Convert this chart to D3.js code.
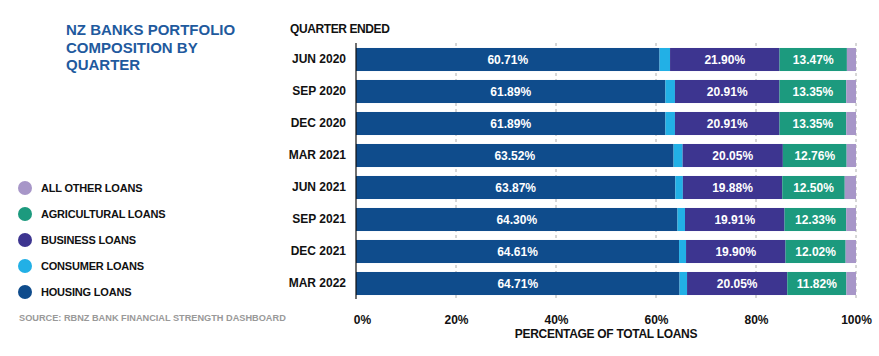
<!DOCTYPE html>
<html><head><meta charset="utf-8">
<script src="https://cdn.jsdelivr.net/npm/d3@7"></script>
<style>
html,body{margin:0;padding:0;background:#fff;}
text{font-family:"Liberation Sans",Arial,sans-serif;font-weight:bold;}
</style></head>
<body>
<svg id="chart" width="879" height="356"></svg>
<script>
const quarters = ["JUN 2020","SEP 2020","DEC 2020","MAR 2021","JUN 2021","SEP 2021","DEC 2021","MAR 2022"];
const housing = [60.71, 61.89, 61.89, 63.52, 63.87, 64.30, 64.61, 64.71];
const consumer = [2.10, 1.90, 1.90, 1.80, 1.50, 1.50, 1.40, 1.50];
const business = [21.90, 20.91, 20.91, 20.05, 19.88, 19.91, 19.90, 20.05];
const agricultural = [13.47, 13.35, 13.35, 12.76, 12.50, 12.33, 12.02, 11.82];
const other = [1.82, 1.95, 1.95, 1.87, 2.25, 1.96, 2.07, 1.92];
const seriesNames = ["HOUSING LOANS","CONSUMER LOANS","BUSINESS LOANS","AGRICULTURAL LOANS","ALL OTHER LOANS"];
const seriesKeys = ["housing","consumer","business","agricultural","other"];
const seriesColors = ["#0f4c8c","#22b0e6","#3d3590","#1c9a7e","#a796c8"];
const labelled = [true,false,true,true,false];
const xTicks = [0,20,40,60,80,100];

const rows = quarters.map((q,i)=>({q, housing:housing[i], consumer:consumer[i], business:business[i], agricultural:agricultural[i], other:other[i]}));
const stacked = d3.stack().keys(seriesKeys)(rows);

const svg = d3.select("#chart");
const x = d3.scaleLinear().domain([0,100]).range([356,856]);
const y = d3.scaleBand().domain(quarters).range([43.5,299.5]).paddingInner(0.28).paddingOuter(0.14);

// title
const title = svg.append("text").attr("x",66).attr("y",35).attr("fill","#1f5a9e").style("font-size","15px");
["NZ BANKS PORTFOLIO","COMPOSITION BY","QUARTER"].forEach((t,i)=>{
  title.append("tspan").attr("x",66).attr("dy", i===0?0:17.5).text(t);
});

svg.append("text").attr("x",290).attr("y",33).style("font-size","12px").style("letter-spacing","-0.4px").attr("fill","#111").text("QUARTER ENDED");

// gridlines
svg.append("g").selectAll("line").data(xTicks.slice(1)).join("line")
  .attr("x1",d=>x(d)).attr("x2",d=>x(d)).attr("y1",43).attr("y2",299)
  .attr("stroke","#999").attr("stroke-width",0.8).attr("stroke-dasharray","3,3");

// bars
const g = svg.append("g");
stacked.forEach((s,si)=>{
  g.append("g").attr("fill",seriesColors[si]).selectAll("rect").data(s).join("rect")
    .attr("x",d=>x(d[0])).attr("width",d=>x(d[1])-x(d[0]))
    .attr("y",d=>y(d.data.q)).attr("height",y.bandwidth());
  if(labelled[si]){
    g.append("g").selectAll("text").data(s).join("text")
      .attr("x",d=>(x(d[0])+x(d[1]))/2).attr("y",d=>y(d.data.q)+y.bandwidth()/2+4.3)
      .attr("text-anchor","middle").attr("fill","#fff").style("font-size","12px")
      .text(d=>(d[1]-d[0]).toFixed(2)+"%");
  }
});

// y axis
const yAxis = svg.append("g").attr("transform","translate(356,0)")
  .call(d3.axisLeft(y).tickSize(0).tickPadding(10));
yAxis.select(".domain").attr("stroke","#111").attr("stroke-width",1.2).attr("d","M0,43V299");
yAxis.selectAll("text").style("font-size","12px").attr("fill","#111").style("font-family","'Liberation Sans',Arial,sans-serif").style("font-weight","bold");

// x axis
const xAxis = svg.append("g").attr("transform","translate(0,299)")
  .call(d3.axisBottom(x).tickValues(xTicks).tickFormat(d=>d+"%").tickSize(0).tickPadding(16));
xAxis.select(".domain").remove();
xAxis.selectAll("text").style("font-size","12px").attr("fill","#111").style("font-family","'Liberation Sans',Arial,sans-serif").style("font-weight","bold")
  .attr("dx",d=>d===0?6:0);

svg.append("text").attr("x",606).attr("y",338).attr("text-anchor","middle").style("font-size","12px").style("letter-spacing","-0.3px").attr("fill","#111").text("PERCENTAGE OF TOTAL LOANS");

// legend
const legendOrder = [4,3,2,1,0];
const lg = svg.append("g");
legendOrder.forEach((si,i)=>{
  const cy = 188 + i*26;
  lg.append("circle").attr("cx",25).attr("cy",cy).attr("r",7).attr("fill",seriesColors[si]);
  lg.append("text").attr("x",41).attr("y",cy+4).style("font-size","11px").style("letter-spacing","-0.2px").attr("fill","#111").text(seriesNames[si]);
});

svg.append("text").attr("x",19).attr("y",321).style("font-size","9.2px").attr("fill","#999").text("SOURCE: RBNZ BANK FINANCIAL STRENGTH DASHBOARD");
</script>
</body></html>
